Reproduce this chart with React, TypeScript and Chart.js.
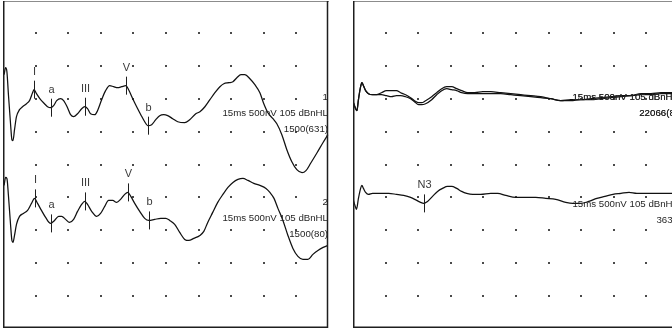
import React, { useEffect, useRef } from "react";
import { Chart, registerables } from "chart.js";

Chart.register(...registerables);

// Recording window: 15 ms sweep, 500 nV per division, 10 x 10 divisions
const SWEEP_MS = 15;
const NV_PER_DIV = 500;
const DIVS = 10;
const STIMULUS = "15ms 500nV 105 dBnHL";

// ---- Left panel: two ABR channels (time in ms, amplitude in nV) ----
const leftTime1 = [
  0.05, 0.12, 0.18, 0.25, 0.35, 0.41, 0.46, 0.53, 0.62, 0.76,
  0.9, 1.08, 1.22, 1.36, 1.43, 1.54, 1.73, 1.91, 2.05, 2.19,
  2.33, 2.47, 2.65, 2.79, 2.97, 3.11, 3.25, 3.43, 3.62, 3.76,
  3.89, 4.03, 4.22, 4.35, 4.54, 4.72, 4.91, 5.09, 5.28, 5.46,
  5.65, 5.78, 5.97, 6.15, 6.34, 6.52, 6.66, 6.84, 7.03, 7.21,
  7.4, 7.58, 7.81, 8.04, 8.36, 8.59, 8.87, 9.06, 9.29, 9.52,
  9.75, 9.98, 10.16, 10.39, 10.58, 10.76, 10.95, 11.13, 11.36, 11.59,
  11.82, 12.0, 12.19, 12.42, 12.6, 12.83, 13.06, 13.29, 13.52, 13.76,
  13.94, 14.17, 14.45, 14.72, 14.95,
];
const leftAmp1 = [
  365, 471, 410, 61, -395, -623, -638, -471, -274, -167,
  -122, -76, -30, 91, 137, 76, -15, -76, -122, -137,
  -106, -30, 0, -30, -137, -243, -274, -228, -152, -122,
  -152, -228, -243, -182, -15, 122, 198, 182, 167, 182,
  198, 137, 0, -122, -243, -350, -410, -395, -319, -258,
  -243, -258, -304, -350, -365, -319, -228, -198, -122, -15,
  91, 182, 228, 243, 258, 319, 365, 365, 304, 213,
  91, -76, -213, -304, -380, -547, -775, -958, -1079, -1125,
  -1094, -973, -821, -669, -547,
];
const leftTime2 = [
  0.05, 0.12, 0.18, 0.25, 0.35, 0.41, 0.46, 0.53, 0.62, 0.76,
  0.94, 1.13, 1.31, 1.45, 1.59, 1.77, 1.96, 2.19, 2.37, 2.56,
  2.7, 2.88, 3.06, 3.25, 3.43, 3.62, 3.76, 3.89, 4.08, 4.31,
  4.49, 4.68, 4.86, 5.05, 5.23, 5.41, 5.6, 5.74, 5.88, 6.06,
  6.29, 6.52, 6.71, 6.98, 7.26, 7.49, 7.67, 7.9, 8.13, 8.36,
  8.55, 8.78, 9.06, 9.24, 9.42, 9.65, 9.88, 10.12, 10.35, 10.58,
  10.81, 11.04, 11.27, 11.54, 11.82, 12.1, 12.28, 12.47, 12.65, 12.88,
  13.11, 13.34, 13.57, 13.8, 14.03, 14.26, 14.49, 14.73, 14.95,
];
const leftAmp2 = [
  182, 304, 289, 30, -426, -654, -684, -578, -410, -289,
  -243, -198, -91, -15, -91, -198, -304, -395, -350, -289,
  -289, -334, -380, -334, -213, -106, -61, -106, -213, -289,
  -243, -137, -46, -46, -76, -30, 46, 76, 15, -91,
  -213, -319, -350, -334, -319, -319, -350, -410, -532, -638,
  -654, -623, -578, -517, -380, -228, -76, 46, 152, 228,
  274, 289, 258, 213, 182, 137, 76, -15, -167, -350,
  -578, -775, -897, -942, -942, -866, -806, -760, -730,
];
const leftBaselines = [3500, 2000];
const leftChannelNames = ["1", "2"];
const leftSweeps = ["1500(631)", "1500(80)"];
const peakNames = ["I", "a", "III", "V", "b"];
const leftPeakTimes1 = [1.43, 2.19, 3.76, 5.65, 6.66];
const leftPeakTimes2 = [1.45, 2.19, 3.76, 5.74, 6.71];

// ---- Right panel: two superimposed runs plus one channel ----
const rightTime1 = [
  0.02, 0.12, 0.18, 0.25, 0.35, 0.41, 0.48, 0.58, 0.71, 0.9,
  1.08, 1.31, 1.54, 1.77, 2.0, 2.19, 2.42, 2.65, 2.83, 3.02,
  3.16, 3.34, 3.62, 3.85, 4.08, 4.31, 4.54, 4.77, 5.0, 5.28,
  5.6, 5.97, 6.34, 6.8, 7.26, 7.72, 8.18, 8.64, 9.1, 9.56,
  10.02, 10.48, 10.94, 11.41, 11.87, 12.33, 12.79, 13.25, 13.71, 14.17,
  14.72, 15.0,
];
const rightAmp1a = [
  -61, -152, -182, -15, 182, 243, 198, 122, 76, 61,
  61, 91, 122, 122, 122, 91, 61, 15, -30, -61,
  -61, -30, 30, 91, 152, 182, 182, 152, 122, 91,
  91, 106, 106, 91, 76, 61, 46, 30, 0, -30,
  -15, -15, 0, 15, 30, 46, 46, 76, 76, 91,
  91, 91,
];
const rightAmp1b = [
  -61, -152, -182, -15, 182, 243, 198, 122, 76, 61,
  61, 61, 46, 30, 46, 46, 30, 0, -46, -91,
  -91, -76, -15, 61, 122, 152, 137, 122, 91, 76,
  76, 76, 76, 76, 61, 46, 30, 15, 0, -30,
  -30, -15, -15, 0, 15, 30, 46, 61, 61, 76,
  76, 76,
];
const rightTime2 = [
  0.02, 0.12, 0.16, 0.25, 0.35, 0.41, 0.48, 0.58, 0.71, 0.9,
  1.27, 1.64, 2.0, 2.33, 2.65, 2.93, 3.11, 3.25, 3.43, 3.66,
  3.89, 4.12, 4.35, 4.54, 4.77, 5.0, 5.23, 5.51, 5.88, 6.34,
  6.66, 7.03, 7.49, 7.95, 8.41, 8.87, 9.33, 9.79, 10.12, 10.48,
  10.85, 11.22, 11.59, 11.96, 12.33, 12.7, 13.06, 13.48, 13.94, 14.4,
  15.0,
];
const rightAmp2 = [
  -46, -152, -182, -15, 137, 182, 137, 76, 46, 61,
  61, 61, 46, 30, 0, -46, -76, -91, -61, 15,
  91, 137, 167, 167, 137, 91, 61, 46, 46, 61,
  61, 30, 0, 0, 0, -15, -30, -76, -91, -91,
  -61, -15, 15, 46, 61, 76, 61, 61, 61, 61,
  61,
];
const rightBaselines = [3500, 3500, 2000];
const rightChannelNames = ["1", "2"];
const rightSweeps = ["22066(8)", "3630"];
const rightPeakNames = ["N3"];
const rightPeakTimes = [3.25];

type Trace = { time: number[]; amp: number[]; base: number };
type Marker = { trace: number; label: string; time: number };
type Info = { name: string; sweeps: string; level: number; copies: number };
type PanelDef = { traces: Trace[]; markers: Marker[]; info: Info[] };

const FONT = '"Liberation Sans", Arial, Helvetica, sans-serif';

function ampAt(time: number[], amp: number[], t: number): number {
  for (let i = 0; i < time.length - 1; i++) {
    if (t >= time[i] && t <= time[i + 1]) {
      const f = (t - time[i]) / (time[i + 1] - time[i] || 1);
      return amp[i] + f * (amp[i + 1] - amp[i]);
    }
  }
  return t < time[0] ? amp[0] : amp[amp.length - 1];
}

const leftPanel: PanelDef = {
  traces: [
    { time: leftTime1, amp: leftAmp1, base: leftBaselines[0] },
    { time: leftTime2, amp: leftAmp2, base: leftBaselines[1] },
  ],
  markers: [
    ...peakNames.map((label, i) => ({ trace: 0, label, time: leftPeakTimes1[i] })),
    ...peakNames.map((label, i) => ({ trace: 1, label, time: leftPeakTimes2[i] })),
  ],
  info: [
    { name: leftChannelNames[0], sweeps: leftSweeps[0], level: 3283, copies: 1 },
    { name: leftChannelNames[1], sweeps: leftSweeps[1], level: 1687, copies: 1 },
  ],
};

const rightPanel: PanelDef = {
  traces: [
    { time: rightTime1, amp: rightAmp1a, base: rightBaselines[0] },
    { time: rightTime1, amp: rightAmp1b, base: rightBaselines[1] },
    { time: rightTime2, amp: rightAmp2, base: rightBaselines[2] },
  ],
  markers: rightPeakNames.map((label, i) => ({ trace: 2, label, time: rightPeakTimes[i] })),
  info: [
    { name: rightChannelNames[0], sweeps: rightSweeps[0], level: 3526, copies: 2 },
    { name: rightChannelNames[1], sweeps: rightSweeps[1], level: 1900, copies: 1 },
  ],
};

function overlay(panel: PanelDef) {
  return {
    id: "abrOverlay",
    beforeDatasetsDraw(chart: any) {
      const { ctx, scales } = chart;
      const x = scales.x;
      const y = scales.y;
      ctx.save();
      ctx.fillStyle = "#4a4a4a";
      for (let i = 1; i < DIVS; i++) {
        for (let j = 1; j < DIVS; j++) {
          const px = Math.round(x.getPixelForValue((i * SWEEP_MS) / DIVS));
          const py = Math.round(y.getPixelForValue(j * NV_PER_DIV));
          ctx.fillRect(px - 1, py - 1, 2, 2);
        }
      }
      ctx.restore();
    },
    afterDatasetsDraw(chart: any) {
      const { ctx, chartArea: a, scales } = chart;
      const x = scales.x;
      const y = scales.y;
      ctx.save();

      // frame: light top edge, dark left/right/bottom edges
      ctx.lineWidth = 1;
      ctx.strokeStyle = "#8c8c8c";
      ctx.beginPath();
      ctx.moveTo(a.left, a.top + 1.5);
      ctx.lineTo(a.right, a.top + 1.5);
      ctx.stroke();
      ctx.strokeStyle = "#1e1e1e";
      ctx.lineWidth = 1.5;
      ctx.beginPath();
      ctx.moveTo(a.left + 0.75, a.top + 1);
      ctx.lineTo(a.left + 0.75, a.bottom - 1.75);
      ctx.lineTo(a.right - 1.5, a.bottom - 1.75);
      ctx.lineTo(a.right - 1.5, a.top + 1);
      ctx.stroke();

      // peak markers
      ctx.strokeStyle = "#1e1e1e";
      ctx.lineWidth = 1;
      ctx.fillStyle = "#3a3a3a";
      ctx.font = `11px ${FONT}`;
      ctx.textAlign = "center";
      ctx.textBaseline = "middle";
      panel.markers.forEach((m) => {
        const tr = panel.traces[m.trace];
        const px = Math.round(x.getPixelForValue(m.time)) + 0.5;
        const py = y.getPixelForValue(ampAt(tr.time, tr.amp, m.time) + tr.base);
        ctx.beginPath();
        ctx.moveTo(px, py - 9);
        ctx.lineTo(px, py + 9);
        ctx.stroke();
        ctx.fillText(m.label, px, py - 18);
      });

      // channel annotations
      ctx.fillStyle = "#262626";
      ctx.font = `9.7px ${FONT}`;
      ctx.textAlign = "right";
      const rx = a.right - 1;
      panel.info.forEach((inf) => {
        const py = y.getPixelForValue(inf.level);
        for (let k = 0; k < inf.copies; k++) {
          ctx.fillText(inf.name, rx, py - 16);
          ctx.fillText(STIMULUS, rx, py);
          ctx.fillText(inf.sweeps, rx, py + 16);
        }
      });
      ctx.restore();
    },
  };
}

function Panel({ left, panel }: { left: number; panel: PanelDef }) {
  const ref = useRef<HTMLCanvasElement>(null);
  useEffect(() => {
    const chart = new Chart(ref.current as HTMLCanvasElement, {
      type: "line",
      data: {
        datasets: panel.traces.map((tr) => ({
          data: tr.time.map((t, i) => ({ x: t, y: tr.amp[i] + tr.base })),
          borderColor: "#111111",
          borderWidth: 1.25,
          pointRadius: 0,
          fill: false,
          cubicInterpolationMode: "monotone" as const,
        })),
      },
      options: {
        responsive: false,
        animation: false,
        devicePixelRatio: 1,
        events: [],
        layout: { padding: 0 },
        scales: {
          x: { type: "linear", min: 0, max: SWEEP_MS, display: false },
          y: { type: "linear", min: 0, max: NV_PER_DIV * DIVS, display: false },
        },
        plugins: { legend: { display: false }, tooltip: { enabled: false } },
      },
      plugins: [overlay(panel)],
    } as any);
    return () => chart.destroy();
  }, [panel]);
  return (
    <canvas
      ref={ref}
      width={326}
      height={329}
      style={{ position: "absolute", left, top: 0, width: 326, height: 329 }}
    />
  );
}

export default function App() {
  return (
    <div
      style={{
        position: "fixed",
        left: 0,
        top: 0,
        width: 672,
        height: 328,
        overflow: "hidden",
        background: "#fff",
      }}
    >
      <Panel left={3} panel={leftPanel} />
      <Panel left={353} panel={rightPanel} />
    </div>
  );
}
